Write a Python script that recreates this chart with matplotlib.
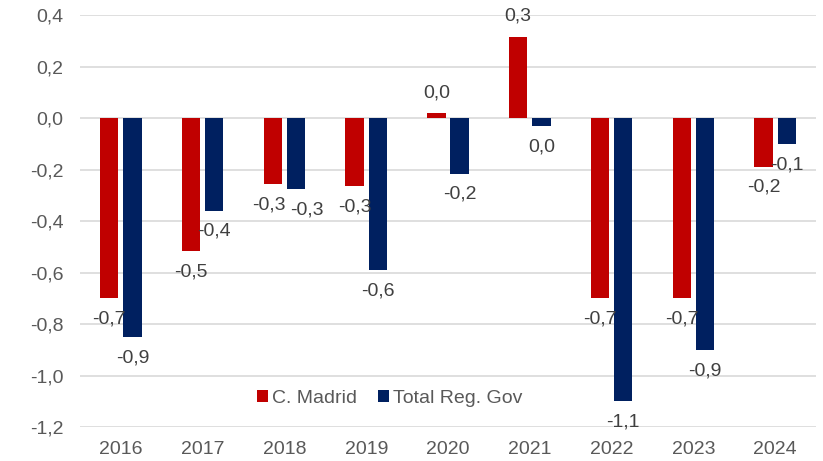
import numpy as np
import matplotlib.pyplot as plt

plt.rcParams['font.family'] = ['Liberation Sans', 'DejaVu Sans']

years = ['2016', '2017', '2018', '2019', '2020', '2021', '2022', '2023', '2024']
madrid = [-0.70, -0.515, -0.255, -0.263, 0.019, 0.316, -0.70, -0.70, -0.188]
total_reg = [-0.851, -0.359, -0.274, -0.590, -0.215, -0.029, -1.10, -0.90, -0.10]
yticks = [0.4, 0.2, 0.0, -0.2, -0.4, -0.6, -0.8, -1.0, -1.2]

RED = '#C00000'
NAVY = '#002060'
TXT = '#595959'
FS = 14


def fmt(v):
    r = round(v, 1)
    if abs(r) < 1e-9:
        r = 0.0
    return f"{r:.1f}".replace('.', ',')


fig = plt.figure(figsize=(8.23, 4.61), dpi=100)
ax = fig.add_axes([80 / 823, 1 - 427 / 461, 736 / 823, (427 - 15.3) / 461])

x = np.arange(len(years))
w = 0.224
off = 0.142
b1 = ax.bar(x - off, madrid, w, color=RED, label='C. Madrid', zorder=3)
b2 = ax.bar(x + off, total_reg, w, color=NAVY, label='Total Reg. Gov', zorder=3)

# data labels outside the bar end (2018 pair nudged apart like the original)
nudge = {(0, 2): -3, (1, 2): 8}
for s, (bars, vals) in enumerate(((b1, madrid), (b2, total_reg))):
    for i, (rect, v) in enumerate(zip(bars, vals)):
        cx = rect.get_x() + rect.get_width() / 2
        dy = 15 if v >= 0 else -15
        ax.annotate(fmt(v), xy=(cx, v), xytext=(nudge.get((s, i), 0), dy),
                    textcoords='offset points', ha='center', va='center',
                    fontsize=FS, color='#404040', zorder=4)

ax.set_xlim(-0.5, len(years) - 0.5)
ax.set_ylim(-1.2, 0.4)
ax.set_yticks(yticks)
ax.set_yticklabels([fmt(t) for t in yticks])
ax.set_xticks(x)
ax.set_xticklabels(years)
ax.tick_params(axis='y', length=0, pad=12, labelsize=FS, labelcolor=TXT)
ax.tick_params(axis='x', length=0, pad=10, labelsize=FS, labelcolor=TXT)
ax.grid(axis='y', color='#D9D9D9', linewidth=1.2, zorder=0)
for s in ax.spines.values():
    s.set_visible(False)

ax.legend(loc='center', bbox_to_anchor=(0.421, 0.07), ncol=2, frameon=False,
          fontsize=FS, labelcolor=TXT, handlelength=0.57, handleheight=0.57,
          handletextpad=0.2, columnspacing=1.1)

fig.savefig('out.png', dpi=100)
